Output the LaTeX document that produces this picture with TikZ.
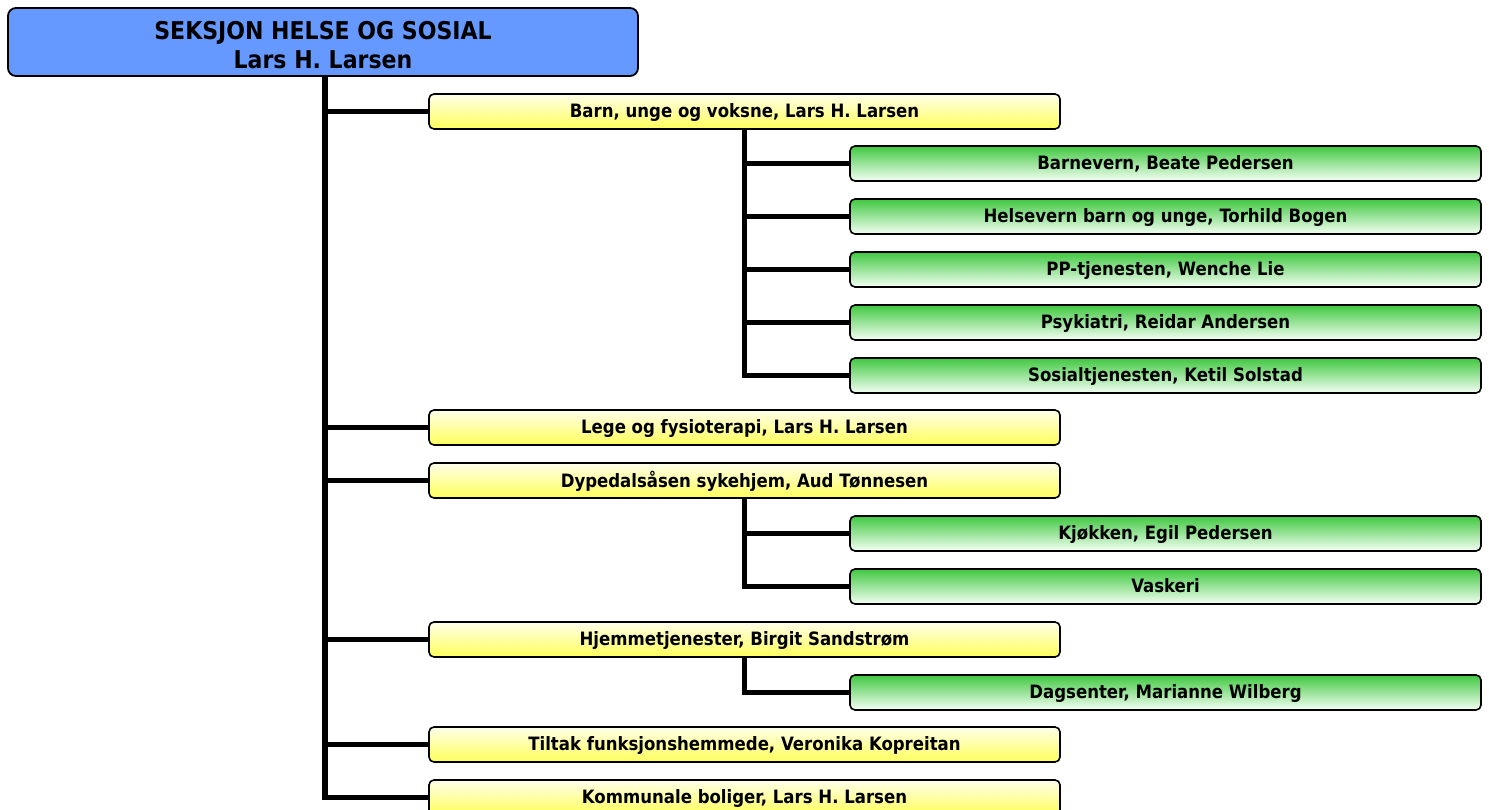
\documentclass[tikz,border=0pt]{standalone}
\usepackage{fontspec}
\setmainfont{DejaVu Sans Condensed}
\definecolor{topblue}{RGB}{102,153,255}
\definecolor{ylo}{RGB}{255,255,90}
\definecolor{yhi}{RGB}{255,255,235}
\definecolor{gtop}{RGB}{64,200,64}
\definecolor{gbot}{RGB}{245,255,245}
\begin{document}
\begin{tikzpicture}[x=1pt,y=-1pt,
  box/.style={draw=black, line width=1.6pt, rounded corners=5pt, minimum width=631pt, minimum height=35pt, inner sep=0pt, text depth=0.25em, font=\fontsize{18.4}{20}\selectfont\bfseries},
  ybox/.style={box, top color=yhi, bottom color=ylo},
  gbox/.style={box, top color=gtop, bottom color=gbot},
  conn/.style={line width=5.5pt, black}]
\useasboundingbox (0,0) rectangle (1489,810);
\begin{scope}
\clip (0,0) rectangle (1489,810);
\node[draw=black, line width=1.8pt, rounded corners=8pt, fill=topblue, minimum width=630pt, minimum height=68pt, inner sep=0pt, align=center, font=\fontsize{24.5}{29}\selectfont\bfseries] (top) at (323,42) {\raisebox{-12pt}[0pt][0pt]{\begin{tabular}{@{}c@{}}SEKSJON HELSE OG SOSIAL\\Lars H. Larsen\end{tabular}}};

\node[ybox] (y1) at (744.5,111.5) {Barn, unge og voksne, Lars H. Larsen};
\node[ybox] (y2) at (744.5,427.5) {Lege og fysioterapi, Lars H. Larsen};
\node[ybox] (y3) at (744.5,480.5) {Dypedalsåsen sykehjem, Aud Tønnesen};
\node[ybox] (y4) at (744.5,639.5) {Hjemmetjenester, Birgit Sandstrøm};
\node[ybox] (y5) at (744.5,744.5) {Tiltak funksjonshemmede, Veronika Kopreitan};
\node[ybox] (y6) at (744.5,797.5) {Kommunale boliger, Lars H. Larsen};

\node[gbox] (g1) at (1165.5,163.5) {Barnevern, Beate Pedersen};
\node[gbox] (g2) at (1165.5,216.5) {Helsevern barn og unge, Torhild Bogen};
\node[gbox] (g3) at (1165.5,269.5) {PP-tjenesten, Wenche Lie};
\node[gbox] (g4) at (1165.5,322.5) {Psykiatri, Reidar Andersen};
\node[gbox] (g5) at (1165.5,375.5) {Sosialtjenesten, Ketil Solstad};
\node[gbox] (g6) at (1165.5,533.5) {Kjøkken, Egil Pedersen};
\node[gbox] (g7) at (1165.5,586.5) {Vaskeri};
\node[gbox] (g8) at (1165.5,692.5) {Dagsenter, Marianne Wilberg};

\foreach \n in {y1,y2,y3,y4,y5,y6} \draw[conn] ([xshift=2pt]top.south) |- (\n.west);
\foreach \n in {g1,g2,g3,g4,g5} \draw[conn] (y1.south) |- (\n.west);
\foreach \n in {g6,g7} \draw[conn] (y3.south) |- (\n.west);
\draw[conn] (y4.south) |- (g8.west);
\end{scope}
\end{tikzpicture}
\end{document}
